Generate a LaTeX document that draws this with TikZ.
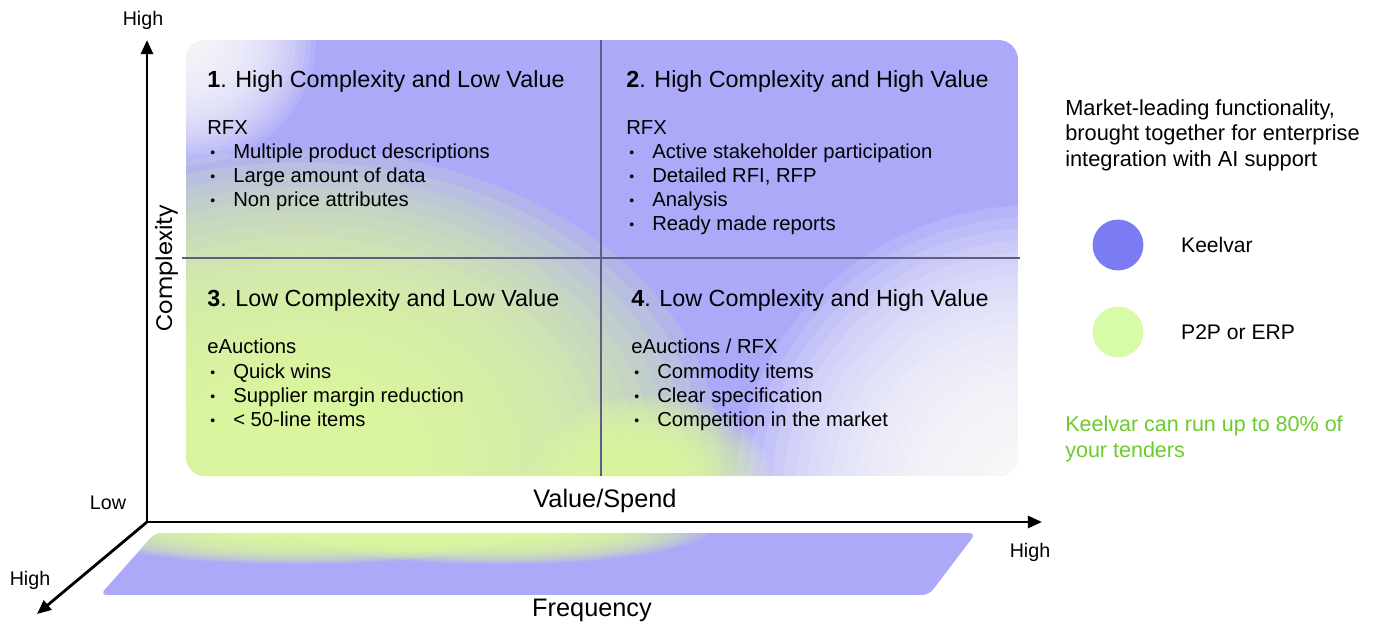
\documentclass[tikz,border=0pt]{standalone}
\usepackage{fontspec}
\setmainfont{Liberation Sans}
\newfontfamily\geofont{Poppins}
\usetikzlibrary{positioning,arrows.meta}
\definecolor{peri}{HTML}{ACA9F8}
\definecolor{lime}{HTML}{DFFB9E}
\definecolor{keel}{HTML}{7B7BF3}
\definecolor{ptwo}{HTML}{D8FBA8}
\definecolor{tgreen}{HTML}{6BCB2B}
\definecolor{divider}{HTML}{5E5E85}
% soft colour blob: stacked see-through ellipses
\newcommand{\softblob}[5][0.1]{%
  \foreach \k in {1,...,25}
    \fill[#2, fill opacity=#1] #3 ellipse ({#4*\k/25} and {#5*\k/25});}
\newcommand{\itm}{\makebox[0.65cm][l]{\hspace{0.08cm}\raisebox{0.6pt}{\fontsize{10}{10}\selectfont\textbullet}}}
\tikzset{axisline/.style={line width=2pt, {Triangle[length=10pt,width=8.5pt]}-{Triangle[length=10pt,width=8.5pt]}}}

\begin{document}
\begin{tikzpicture}[x=0.025cm, y=-0.025cm,
    every node/.style = {inner sep=0pt},
    quadtitle/.style = {anchor=base west, font=\fontsize{16.6}{20}\selectfont},
    quadlist/.style = {anchor=north west, align=left, font=\fontsize{14.4}{17.1}\selectfont},
    lbl/.style = {font=\fontsize{14}{17}\selectfont},
    axname/.style = {font=\fontsize{18}{21}\selectfont},
    divline/.style = {draw=divider, line width=0.8pt},
    dot/.style = {circle, minimum size=1.27cm}]
  \useasboundingbox (0,0) rectangle (1376,625);

  % quadrant panel
  \coordinate (nw) at (186,40);
  \coordinate (se) at (1018,476);
  \begin{scope}
    \clip[rounded corners=14pt] (nw) rectangle (se);
    \fill[peri] (nw) rectangle (se);
    \softblob[0.15]{lime}{(300,460)}{420}{310}
    \softblob[0.12]{lime}{(650,480)}{120}{85}
    \softblob[0.1]{white}{(186,40)}{130}{125}
    \softblob[0.12]{white}{(1035,495)}{300}{290}
  \end{scope}
  \draw[divline] (601,40) -- (601,476);
  \draw[divline] (182,258) -- (1020,258);

  % frequency strip
  \begin{scope}
    \clip[rounded corners=5pt] (155,533) -- (976,533) -- (929,595) -- (100,595) -- cycle;
    \fill[peri] (100,533) rectangle (976,595);
    \softblob[0.15]{lime}{(300,528)}{230}{36}
    \softblob[0.15]{lime}{(500,528)}{210}{36}
  \end{scope}

  % axes
  \coordinate (o) at (147,522);
  \coordinate (ytip) at (147,40);
  \coordinate (xtip) at (1042,522);
  \coordinate (ztip) at (37,614);
  \draw[axisline] (ytip) -- (o) -- (xtip);
  \draw[axisline, {Triangle[length=10pt,width=8.5pt]}-] (ztip) -- (o);

  \node[lbl] (yhigh) at (143,20) {High};
  \node[lbl] (ylow) at (108,503) {Low};
  \node[lbl] (xhigh) at (1030,552) {High};
  \node[lbl] (zhigh) at (30,580) {High};
  \node[axname] (xname) at (605,501) {Value/Spend};
  \node[axname] (zname) at (592,610) {Frequency};
  \node[font=\geofont\fontsize{16}{19}\selectfont, rotate=90] (yname) at (167,268) {Complexity};

  % quadrants
  \node[quadtitle] (t1) at (207,87) {\textbf{1}. High Complexity and Low Value};
  \node[quadlist, below=0.825cm of t1.base west, anchor=north west] (l1)
    {RFX\\ \itm Multiple product descriptions\\ \itm Large amount of data\\ \itm Non price attributes};
  \node[quadtitle] (t2) at (626,87) {\textbf{2}. High Complexity and High Value};
  \node[quadlist, below=0.825cm of t2.base west, anchor=north west] (l2)
    {RFX\\ \itm Active stakeholder participation\\ \itm Detailed RFI, RFP\\ \itm Analysis\\ \itm Ready made reports};
  \node[quadtitle] (t3) at (207,306) {\textbf{3}. Low Complexity and Low Value};
  \node[quadlist, below=0.825cm of t3.base west, anchor=north west] (l3)
    {eAuctions\\ \itm Quick wins\\ \itm Supplier margin reduction\\ \itm < 50-line items};
  \node[quadtitle] (t4) at (631,306) {\textbf{4}. Low Complexity and High Value};
  \node[quadlist, below=0.825cm of t4.base west, anchor=north west] (l4)
    {eAuctions / RFX\\ \itm Commodity items\\ \itm Clear specification\\ \itm Competition in the market};

  % legend
  \node[anchor=north west, align=left, font=\fontsize{15.5}{18.2}\selectfont] (intro) at (1065,99)
    {Market-leading functionality,\\ brought together for enterprise\\ integration with AI support};
  \node[dot, fill=keel] (keelvar) at (1118,245) {};
  \node[lbl, font=\fontsize{15}{18}\selectfont, right=0.93cm of keelvar] {Keelvar};
  \node[dot, fill=ptwo] (ptp) at (1118,332) {};
  \node[lbl, font=\fontsize{15}{18}\selectfont, right=0.93cm of ptp] {P2P or ERP};
  \node[anchor=north west, align=left, text=tgreen, font=\fontsize{15.3}{18.5}\selectfont] (claim) at (1065,416)
    {Keelvar can run up to 80\% of\\ your tenders};
\end{tikzpicture}
\end{document}
